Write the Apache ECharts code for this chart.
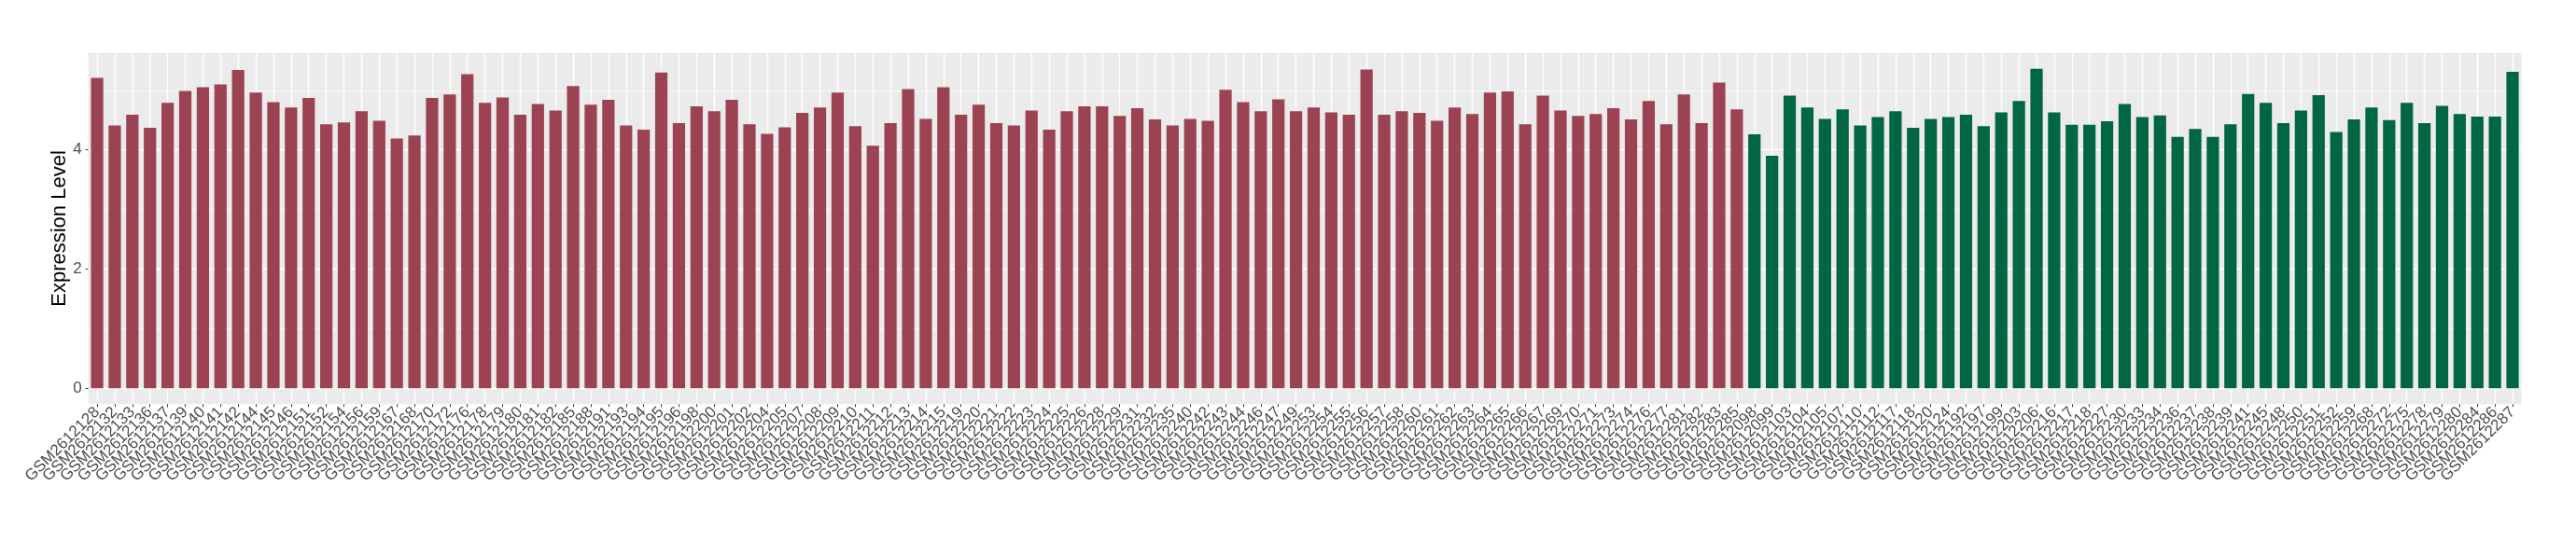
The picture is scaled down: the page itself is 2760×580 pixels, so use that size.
<!DOCTYPE html>
<html><head><meta charset="utf-8">
<script src="https://cdn.jsdelivr.net/npm/echarts@6/dist/echarts.min.js"></script>
<style>html,body{margin:0;padding:0;background:#fff}#c{width:2760px;height:580px}</style>
</head><body><div id="c"></div>
<script>
const groupASamples = ["GSM2612128","GSM2612132","GSM2612133","GSM2612136","GSM2612137","GSM2612139","GSM2612140","GSM2612141","GSM2612142","GSM2612144",
"GSM2612145","GSM2612146","GSM2612151","GSM2612152","GSM2612154","GSM2612156","GSM2612159","GSM2612167","GSM2612168","GSM2612170",
"GSM2612172","GSM2612176","GSM2612178","GSM2612179","GSM2612180","GSM2612181","GSM2612182","GSM2612185","GSM2612188","GSM2612191",
"GSM2612193","GSM2612194","GSM2612195","GSM2612196","GSM2612198","GSM2612200","GSM2612201","GSM2612202","GSM2612204","GSM2612205",
"GSM2612207","GSM2612208","GSM2612209","GSM2612210","GSM2612211","GSM2612212","GSM2612213","GSM2612214","GSM2612215","GSM2612219",
"GSM2612220","GSM2612221","GSM2612222","GSM2612223","GSM2612224","GSM2612225","GSM2612226","GSM2612228","GSM2612229","GSM2612231",
"GSM2612232","GSM2612235","GSM2612240","GSM2612242","GSM2612243","GSM2612244","GSM2612246","GSM2612247","GSM2612249","GSM2612253",
"GSM2612254","GSM2612255","GSM2612256","GSM2612257","GSM2612258","GSM2612260","GSM2612261","GSM2612262","GSM2612263","GSM2612264",
"GSM2612265","GSM2612266","GSM2612267","GSM2612269","GSM2612270","GSM2612271","GSM2612273","GSM2612274","GSM2612276","GSM2612277",
"GSM2612281","GSM2612282","GSM2612283","GSM2612285"];
const groupAValues = [5.21,4.41,4.59,4.37,4.79,4.99,5.05,5.10,5.34,4.96,
4.80,4.71,4.87,4.43,4.46,4.65,4.49,4.19,4.24,4.87,
4.93,5.27,4.79,4.88,4.59,4.77,4.66,5.07,4.76,4.84,
4.41,4.34,5.30,4.45,4.73,4.65,4.84,4.43,4.27,4.38,
4.62,4.71,4.96,4.40,4.07,4.45,5.02,4.52,5.05,4.59,
4.76,4.45,4.41,4.66,4.34,4.65,4.73,4.73,4.57,4.70,
4.51,4.41,4.52,4.49,5.01,4.80,4.65,4.85,4.65,4.71,
4.63,4.59,5.35,4.59,4.65,4.62,4.49,4.71,4.60,4.96,
4.98,4.43,4.91,4.66,4.57,4.60,4.70,4.51,4.82,4.43,
4.93,4.45,5.13,4.68];
const groupBSamples = ["GSM2612098","GSM2612099","GSM2612103","GSM2612104","GSM2612105","GSM2612107","GSM2612110","GSM2612112","GSM2612117","GSM2612118",
"GSM2612120","GSM2612124","GSM2612192","GSM2612197","GSM2612199","GSM2612203","GSM2612206","GSM2612216","GSM2612217","GSM2612218",
"GSM2612227","GSM2612230","GSM2612233","GSM2612234","GSM2612236","GSM2612237","GSM2612238","GSM2612239","GSM2612241","GSM2612245",
"GSM2612248","GSM2612250","GSM2612251","GSM2612252","GSM2612259","GSM2612268","GSM2612272","GSM2612275","GSM2612278","GSM2612279",
"GSM2612280","GSM2612284","GSM2612286","GSM2612287"];
const groupBValues = [4.26,3.90,4.91,4.71,4.52,4.68,4.41,4.55,4.65,4.37,
4.52,4.55,4.59,4.40,4.63,4.82,5.36,4.63,4.42,4.42,
4.48,4.77,4.55,4.58,4.22,4.35,4.22,4.43,4.94,4.79,
4.45,4.66,4.92,4.30,4.51,4.71,4.50,4.79,4.45,4.74,
4.60,4.56,4.56,5.31];
const yMajorTicks = [0, 2, 4];
const yMinorTicks = [1, 3, 5];

const cats = groupASamples.concat(groupBSamples);
const nA = groupASamples.length;
const dataA = cats.map((c, i) => i < nA ? groupAValues[i] : null);
const dataB = cats.map((c, i) => i < nA ? null : groupBValues[i - nA]);
const vmax = Math.max(...groupAValues, ...groupBValues);
const pad = 0.05 * vmax;
const yMin = -pad, yMax = vmax + pad;
const FONT = 'Liberation Sans, Arial, sans-serif';

const chart = echarts.init(document.getElementById('c'), null, {renderer: 'canvas'});
chart.setOption({
  animation: false,
  backgroundColor: '#ffffff',
  grid: {left: 94.6, right: 58.5, top: 56.7, bottom: 146.7, show: true, backgroundColor: '#EBEBEB', borderWidth: 0, containLabel: false},
  xAxis: {
    type: 'category', data: cats, boundaryGap: true,
    axisLine: {show: false, onZero: false},
    axisTick: {show: true, alignWithLabel: true, interval: 0, length: 3, lineStyle: {color: '#333333', width: 1}},
    axisLabel: {interval: 0, rotate: 45, fontSize: 17, color: '#4D4D4D', margin: 6, fontFamily: FONT},
    splitLine: {show: true, interval: 0, alignWithLabel: true, lineStyle: {color: '#ffffff', width: 1.4}}
  },
  yAxis: [
    {
      type: 'value', min: yMin, max: yMax,
      name: 'Expression Level', nameLocation: 'middle', nameGap: 20, nameMoveOverlap: false,
      nameTextStyle: {fontSize: 22, color: '#000000', fontFamily: FONT},
      axisLine: {show: false},
      axisTick: {show: true, length: 3, customValues: yMajorTicks, lineStyle: {color: '#333333'}},
      axisLabel: {customValues: yMajorTicks, fontSize: 17, color: '#4D4D4D', margin: 7, fontFamily: FONT},
      splitLine: {show: true, lineStyle: {color: '#ffffff', width: 1.4}}
    },
    {
      type: 'value', min: yMin, max: yMax, position: 'left',
      axisLine: {show: false},
      axisTick: {show: false, customValues: yMinorTicks},
      axisLabel: {show: false, customValues: yMinorTicks},
      splitLine: {show: true, lineStyle: {color: '#ffffff', width: 0.7}}
    }
  ],
  series: [
    {type: 'bar', data: dataA, barWidth: '70%', barGap: '-100%', itemStyle: {color: '#9B4352'}},
    {type: 'bar', data: dataB, barWidth: '70%', barGap: '-100%', itemStyle: {color: '#006644'}}
  ]
});
</script>
</body></html>
